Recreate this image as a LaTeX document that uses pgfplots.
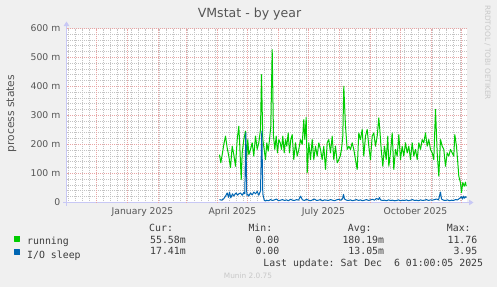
\documentclass[border=0pt]{standalone}
\usepackage{fontspec}
\setmainfont{DejaVu Sans}
\setmonofont{DejaVu Sans Mono}
\usepackage{pgfplots}
\pgfplotsset{compat=1.18}
\usetikzlibrary{arrows.meta}
\definecolor{bgc}{RGB}{240,240,240}
\definecolor{runc}{RGB}{0,204,0}
\definecolor{ioc}{RGB}{0,102,179}
\definecolor{majg}{RGB}{232,165,165}
\definecolor{ming}{RGB}{195,195,195}
\definecolor{axc}{RGB}{200,200,245}
\definecolor{txt}{RGB}{85,85,85}
\definecolor{ltxt}{RGB}{60,60,60}
\definecolor{wm}{RGB}{200,200,200}
\newcommand\mf{\ttfamily\fontsize{9.9}{11}\selectfont}
\begin{document}
\begin{tikzpicture}
\fill[bgc] (-66bp,-84bp) rectangle (431bp,203bp);
\begin{axis}[
  name=ax, at={(0.5bp,0.5bp)}, anchor=south west,
  scale only axis, width=400bp, height=174bp,
  xmin=-61, xmax=339, ymin=0, ymax=600,
  axis background/.style={fill=white},
  axis x line*=bottom, axis y line*=left,
  x axis line style={axc, line width=1bp, shorten >=-7bp, shorten <=-3bp, -{Triangle[length=4.5bp,width=5.5bp]}},
  y axis line style={axc, line width=1bp, shorten >=-7bp, shorten <=-3bp, -{Triangle[length=4.5bp,width=5.5bp]}},
  major tick length=0pt, minor tick length=0pt,
  xmajorgrids=false, xminorgrids=true, ymajorgrids=true, yminorgrids=true,
  major grid style={majg, line width=1bp, dash pattern=on 1bp off 1bp, dash phase=0.5bp},
  minor grid style={ming, line width=1bp, dash pattern=on 1bp off 1bp, dash phase=0.5bp},
  xtick={15,105,196,288},
  xticklabels={January 2025,April 2025,July 2025,October 2025},
  minor xtick={-59,-52,-45,-38,-31,-24,-17,-10,-3,4,11,18,25,32,39,46,53,60,67,74,81,88,95,102,109,116,123,130,137,144,151,158,165,172,179,186,193,200,207,214,221,228,235,242,249,256,263,270,277,284,291,298,305,312,319,326,333},
  extra x ticks={-31,0,31,59,90,120,151,181,212,243,273,304,334},
  extra x tick labels={},
  extra x tick style={grid=major, major tick length=0pt},
  ytick={0,100,...,600},
  yticklabels={0,100 m,200 m,300 m,400 m,500 m,600 m},
  minor ytick={20,40,...,580},
  tick label style={font=\fontsize{9.3}{11}\selectfont, text=txt},
  yticklabel style={anchor=east, inner sep=0pt, xshift=-6bp},
  xticklabel style={anchor=north, inner sep=0pt, yshift=-5bp},
  title={VMstat - by year},
  title style={at={(axis description cs:0.4575,1.0287)}, anchor=base, font=\fontsize{12.6}{14}\selectfont, text=txt, inner sep=0pt},
  ylabel={process states},
  ylabel style={at={(axis description cs:-0.1375,0.511)}, anchor=center, font=\fontsize{10.8}{12}\selectfont, text=txt, inner sep=0pt},
  legend style={at={(-0.13,-0.1908)}, anchor=north west, draw=none, fill=none, inner sep=0pt, outer sep=0pt, column sep=6.7bp, row sep=2.2bp, font=\mf, text=ltxt, nodes={inner sep=0pt, text height=7.3bp, text depth=2.2bp}},
  legend cell align=left,
  legend image code/.code={\fill[#1] (0bp,1bp) rectangle (5bp,6bp);},
]
\addplot[runc, line width=1bp, line join=round, no marks] coordinates {
(92,165)(93.3,137)(94.7,165)(96.3,200)(98,229)(99.7,188)(101.3,160)(103,120)(104.7,194)(106.3,165)(108,125)(109.7,217)(111.3,263)(112.3,194)(113.7,79)(114.7,171)(116.3,217)(118,246)(119,148)(120.3,217)(121.3,165)(123,183)(124.7,206)(126.3,160)(128,229)(129.7,183)(131.3,206)(133,252)(134,441)(135.3,217)(136.7,183)(138,148)(139.3,206)(140.7,177)(142,217)(143.3,263)(144.7,527)(146,229)(147.3,183)(148.7,229)(150,171)(151.3,217)(152.7,206)(154,183)(155.3,229)(156.7,171)(158,217)(159.3,194)(160.7,240)(162,171)(163.3,217)(164.7,234)(166.3,148)(168,206)(169.7,160)(171.3,183)(173,217)(174.7,200)(176.3,286)(177.3,217)(178.7,293)(179.7,102)(181.3,206)(183,148)(184.7,217)(186.3,148)(188,194)(189.7,160)(191.3,206)(193,183)(194.7,148)(196.3,194)(198,114)(199.7,206)(201.3,217)(203,171)(204.7,229)(206.3,148)(208,194)(209.7,137)(211.3,148)(212.7,160)(214,183)(215.3,229)(216.3,401)(218,263)(219.7,183)(221.3,194)(223,183)(224.7,206)(226.3,183)(228,148)(229.7,114)(231.3,240)(233,217)(234.7,252)(236.3,160)(238,229)(239.7,252)(241.3,194)(243,148)(244.7,229)(246.3,240)(248,194)(249.7,229)(251.3,292)(252.3,252)(253.7,183)(255.3,125)(257,194)(258.7,148)(260.3,229)(261.3,125)(263,171)(264.7,240)(266.3,114)(268,183)(269.7,160)(271.3,234)(273,148)(274.7,194)(276.3,160)(278,206)(279.7,171)(281.3,194)(283,148)(284.7,206)(286.3,160)(288,183)(289.7,148)(291.3,206)(293,183)(294.7,217)(296.3,206)(298,240)(299.7,194)(301.3,217)(303,183)(304.7,171)(306.3,148)(308,321)(309.7,171)(311.3,91)(313,217)(314.7,194)(316.3,183)(318,125)(319.7,171)(321.3,160)(323,183)(324.7,171)(326.3,160)(327.3,234)(329,194)(330.3,137)(331.3,91)(333,68)(334,34)(335.3,69)(336.7,56)(338,70)(338.7,56)
};
\addplot[ioc, line width=1bp, line join=round, no marks] coordinates {
(92,10)(94,8)(96,12)(98,22)(99.7,33)(101,18)(102,36)(103.3,16)(105,30)(106.3,22)(107.3,28)(108.7,33)(110,25)(111.3,30)(113,33)(114.7,25)(116.3,35)(117.3,30)(118.3,240)(119.3,25)(120.3,28)(121.3,22)(123,33)(124.7,26)(126.3,36)(128,30)(129.7,38)(131.3,25)(133,40)(134.3,246)(135.3,30)(136.7,8)(138,5)
(139,8)(141,6)(143,10)(145,7)(147,9)(149,12)(151,6)(153,8)(155,10)(157,7)(159,9)(161,6)(163,11)(165,8)(167,7)(169,10)(171,8)(173,22)(175,9)(177,7)(179,11)(181,8)(183,6)(185,9)(187,12)(189,7)(191,8)(193,10)(195,6)(197,9)(199,8)(201,7)(203,10)(205,8)(207,6)(209,9)(211,11)(213,8)(215,12)(216,28)(217,12)(219,8)(221,7)(223,9)(225,6)(227,8)(229,10)(231,7)(233,9)(235,6)(237,8)(239,10)(241,7)(243,9)(245,11)(247,8)(249,14)(251,10)(252,17)(253,9)(255,7)(257,8)(259,6)(261,9)(263,7)(265,8)(267,6)(269,7)(271,9)(273,6)(275,8)(277,7)(279,9)(281,6)(283,8)(285,10)(287,7)(289,8)(291,6)(293,9)(295,7)(297,8)(299,10)(301,7)(303,9)(305,8)(307,10)(309,12)(311,9)(313,36)(314,12)(316,8)(318,7)(320,9)(322,6)(324,8)(326,7)(328,10)(330,9)(332,14)(334,20)(335,12)(336,22)(337,15)(338,20)(339,17)
};
\legend{running,I/O sleep}
\end{axis}
\begin{scope}[shift={(ax.south west)}]
\tikzset{lt/.style={font=\mf, text=ltxt, inner sep=0pt}}
\node[lt, anchor=base west] at (82.5bp,-28.7bp) {Cur:};
\node[lt, anchor=base west] at (181.8bp,-28.7bp) {Min:};
\node[lt, anchor=base west] at (281.2bp,-28.7bp) {Avg:};
\node[lt, anchor=base west] at (380.2bp,-28.7bp) {Max:};
\node[lt, anchor=base east] at (119.5bp,-40.5bp) {55.58m};
\node[lt, anchor=base east] at (213bp,-40.5bp) {0.00};
\node[lt, anchor=base east] at (317.8bp,-40.5bp) {180.19m};
\node[lt, anchor=base east] at (411bp,-40.5bp) {11.76};
\node[lt, anchor=base east] at (119.5bp,-52.2bp) {17.41m};
\node[lt, anchor=base east] at (213bp,-52.2bp) {0.00};
\node[lt, anchor=base east] at (317.8bp,-52.2bp) {13.05m};
\node[lt, anchor=base east] at (411bp,-52.2bp) {3.95};
\node[lt, anchor=base east] at (416.8bp,-64bp) {Last update: Sat Dec~~6 01:00:05 2025};
\node[rotate=-90, font=\fontsize{7.4}{8}\selectfont, text=wm, inner sep=0pt] at (421bp,150bp) {RRDTOOL / TOBI OETIKER};
\node[font=\fontsize{7.4}{8}\selectfont, text=wm, inner sep=0pt] at (181.5bp,-73bp) {Munin 2.0.75};
\end{scope}
\pgfresetboundingbox
\useasboundingbox (-66bp,-84bp) rectangle (431bp,203bp);
\end{tikzpicture}
\end{document}
